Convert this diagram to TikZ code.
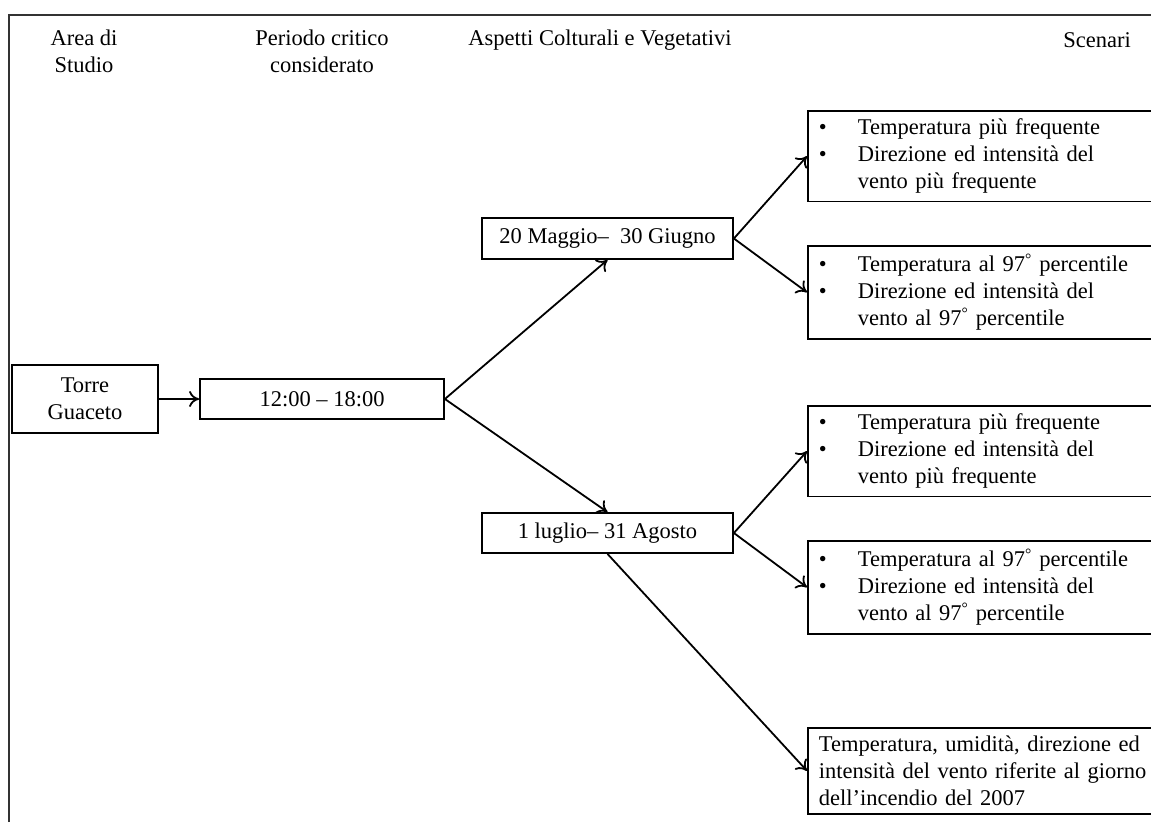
\documentclass[tikz,border=0pt]{standalone}
\usepackage{fontspec}
\setmainfont{Liberation Serif}
\usetikzlibrary{arrows.meta,positioning}

\newcommand{\bul}{\makebox[39pt][l]{\textbullet}}
\newcommand{\nobul}{\hspace*{39pt}}
\newcommand{\grado}{\textsuperscript{°}}

\begin{document}
\begin{tikzpicture}[x=1pt,y=-1pt,
    font=\fontsize{22.5}{27}\selectfont,
    box/.style={draw,line width=1.8pt,align=center,inner sep=2pt},
    scenbox/.style={draw,line width=1.8pt,anchor=north west,text width=340pt,
      align=left,inner xsep=11pt,inner ysep=8pt},
    link/.style={line width=1.8pt,-{To[length=10pt,width=16pt]}}]

  \clip (0,0) rectangle (1151,822);

  % cornice
  \draw[line width=1.8pt,black!80] (9,822) -- (9,15) -- (1151,15);

  % intestazioni
  \node[align=center] (hArea) at (84,51) {Area di\\Studio};
  \node[align=center] (hPer) at (322,51) {Periodo critico\\considerato};
  \node (hAsp) at (600,40) {Aspetti Colturali e Vegetativi};
  \node (hScen) at (1097,40) {Scenari};

  % blocchi
  \node[box,minimum width=146pt,minimum height=68pt] (torre) at (85,399) {Torre\\Guaceto};
  \node[box,minimum width=244pt,minimum height=40pt] (ora) at (322,399) {12:00 \textendash{} 18:00};
  \node[box,minimum width=251pt,minimum height=41pt] (mag) at (607.5,238.5) {20 Maggio\textendash{} \ 30 Giugno};
  \node[box,minimum width=251pt,minimum height=40pt] (lug) at (607.5,533) {1 luglio\textendash{} 31 Agosto};

  % scenari
  \node[scenbox] (s1) at (807,110) {\bul Temperatura più frequente\\
    \bul Direzione ed intensità del\\ \nobul vento più frequente};
  \node[scenbox] (s2) at (807,245) {\bul Temperatura al 97\grado{} percentile\\
    \bul Direzione ed intensità del\\ \nobul vento al 97\grado{} percentile};
  \node[scenbox] (s3) at (807,405) {\bul Temperatura più frequente\\
    \bul Direzione ed intensità del\\ \nobul vento più frequente};
  \node[scenbox] (s4) at (807,540) {\bul Temperatura al 97\grado{} percentile\\
    \bul Direzione ed intensità del\\ \nobul vento al 97\grado{} percentile};
  \node[scenbox] (s5) at (807,727) {Temperatura, umidità, direzione ed\\
    intensità del vento riferite al giorno\\ dell’incendio del 2007};

  % frecce
  \draw[link] (torre) -- (ora);
  \draw[link] (ora.east) -- (mag.south);
  \draw[link] (ora.east) -- (lug.north);
  \draw[link] (mag.east) -- (s1.west);
  \draw[link] (mag.east) -- (s2.west);
  \draw[link] (lug.east) -- (s3.west);
  \draw[link] (lug.east) -- (s4.west);
  \draw[link] (lug.south) -- (s5.west);
\end{tikzpicture}
\end{document}
